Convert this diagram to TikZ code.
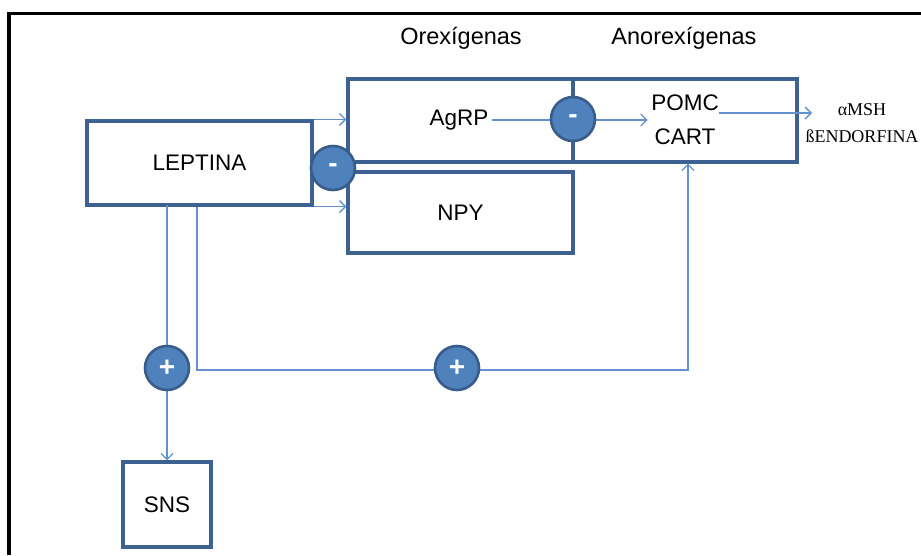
\documentclass[tikz,border=0pt]{standalone}
\usepackage{fontspec}
\setmainfont{Liberation Sans}
\newfontfamily\outserif{Liberation Serif}
\usetikzlibrary{arrows.meta}
\definecolor{boxblue}{RGB}{62,97,148}
\definecolor{linkblue}{RGB}{100,145,205}
\definecolor{circfill}{RGB}{79,129,189}
\definecolor{circedge}{RGB}{56,93,138}
\begin{document}
\begin{tikzpicture}[x=1pt,y=-1pt,
  box/.style={draw=boxblue,line width=3.2pt,fill=white,inner sep=0pt},
  link/.style={draw=linkblue,line width=1.3pt},
  arr/.style={link,-{Straight Barb[length=6pt,width=12pt,line width=1.3pt]}},
  sign/.style={circle,fill=circfill,draw=circedge,line width=2.6pt,minimum size=44pt,inner sep=0pt,text=white,font=\fontsize{28}{28}\selectfont\bfseries},
  lbl/.style={font=\fontsize{22.5}{34}\selectfont,text=black,align=center},
  head/.style={font=\fontsize{23.5}{28}\selectfont,text=black}
]
\useasboundingbox (0,0) rectangle (921,555);
\fill[white] (0,0) rectangle (921,555);
% outer frame
\draw[line width=3.8pt] (9,555) -- (9,13.5) -- (921,13.5);

% headings
\node[head] (orex) at (461,38) {Orexígenas};
\node[head] (anorex) at (684,38) {Anorexígenas};

% boxes
\node[box,minimum width=225pt,minimum height=84pt,lbl] (lep) at (199.5,163) {LEPTINA};
\node[box,minimum width=225pt,minimum height=83pt] (agrp) at (460.5,120.5) {};
\node[box,minimum width=224pt,minimum height=83pt] (pomc) at (685,120.5) {};
\node[box,minimum width=225pt,minimum height=81pt,lbl] (npy) at (460.5,212.5) {NPY};
\node[box,minimum width=88pt,minimum height=85pt,lbl] (sns) at (167,504.5) {SNS};

% texts inside upper boxes
\node[lbl] (agrpt) at (459,120) {AgRP};
\node[lbl] (pomct) at (685,120) {POMC\\CART};
\node[font=\outserif\fontsize{18}{27}\selectfont,align=center] (outt) at (862,123) {αMSH\\ßENDORFINA};

% coordinates for routing
\coordinate (outend) at (812,113);
\coordinate (c1) at (197,370);
\coordinate (c2) at (688,370);

% connectors
\draw[arr] (lep.north east) -- (agrp.west |- lep.north east);
\draw[arr] (lep.south east) -- (npy.west |- lep.south east);
\draw[link] (agrpt.east) -- (573,120);
\draw[arr] (573,120) -- (pomct.west |- 0,120);
\draw[arr] ([xshift=-3pt]pomct.east |- outend) -- (outend);
\draw[arr] (167,205) -- (sns.north);
\draw[arr] (c1 |- lep.south) -- (c1) -- (c2) -- (c2 |- pomc.south);

% sign circles
\node[sign] (m1) at (333,168) {-};
\node[sign] (m2) at (573,119) {-};
\node[sign] (p1) at (167,368) {+};
\node[sign] (p2) at (457,368) {+};
\end{tikzpicture}
\end{document}
